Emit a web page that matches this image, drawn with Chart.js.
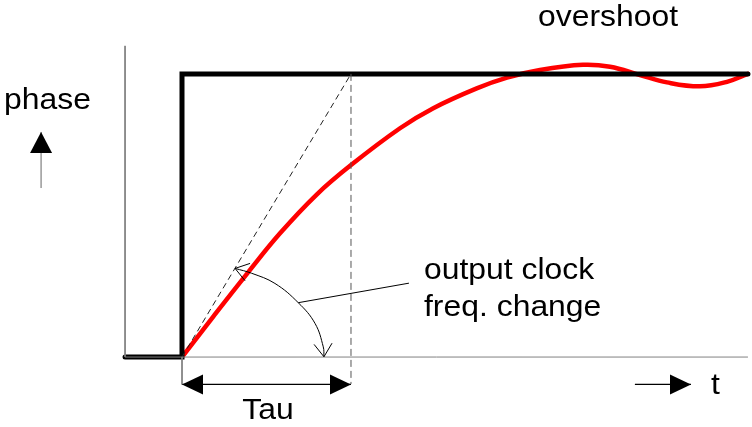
<!DOCTYPE html>
<html>
<head>
<meta charset="utf-8">
<script src="https://cdn.jsdelivr.net/npm/chart.js@4/dist/chart.umd.min.js"></script>
<style>
    html, body { margin: 0; padding: 0; background: #fff; }
    #wrap { width: 752px; height: 427px; position: relative; }
</style>
</head>
<body>
<div id="wrap"><canvas id="phase-chart"></canvas></div>
<script>
// time in units of Tau, phase normalised to the step height
const T_MIN = -1.077, T_MAX = 3.373;
const P_MIN = -0.247, P_MAX = 1.261;

// red response curve
const responseT     = [0, 0.185, 0.383, 0.580, 0.797, 1.000, 1.290, 1.487, 1.744, 1.923, 2.118, 2.373, 2.533, 2.710, 2.870, 3.065, 3.225, 3.349];
const responsePhase = [0, 0.143, 0.293, 0.437, 0.574, 0.678, 0.808, 0.879, 0.949, 0.987, 1.014, 1.032, 1.025, 0.996, 0.970, 0.956, 0.972, 1.000];

// black input step
const stepT     = [-0.337, 0, 0, 3.349];
const stepPhase = [0, 0, 1, 1];

// axes (thin grey)
const axisT     = [-0.337, -0.337, 3.349];
const axisPhase = [1.099, 0, 0];

// tau construction: tangent at origin and marker at t = Tau
const tangentT     = [0, 1];
const tangentPhase = [0, 1];
const tauMarkT     = [1, 1];
const tauMarkPhase = [1, -0.095];
const tauTickT     = [0, 0];
const tauTickPhase = [0, -0.097];
const tauArrowT     = [0, 1];
const tauArrowPhase = [-0.0965, -0.0965];

// "t" and "phase" direction arrows
const timeArrowT     = [2.680, 3.012];
const timeArrowPhase = [-0.0965, -0.0965];
const phaseArrowT     = [-0.834, -0.834];
const phaseArrowPhase = [0.597, 0.795];

// slope angle arc and its leader line
const arcT     = [0.314, 0.412, 0.550, 0.688, 0.787, 0.836, 0.840];
const arcPhase = [0.313, 0.296, 0.260, 0.192, 0.119, 0.036, 0.001];
const leaderT     = [0.688, 1.343];
const leaderPhase = [0.192, 0.261];

// labels: text, t, phase, align
const labels = [
    ["overshoot", 2.107, 1.170, "left"],
    ["phase", -1.053, 0.876, "left"],
    ["output clock", 1.432, 0.276, "left"],
    ["freq. change", 1.432, 0.145, "left"],
    ["t", 3.130, -0.131, "left"],
    ["Tau", 0.509, -0.219, "center"],
];

const pts = (xs, ys) => xs.map((x, i) => ({ x: x, y: ys[i] }));

const line = (xs, ys, color, width, extra) => Object.assign({
    data: pts(xs, ys),
    borderColor: color,
    borderWidth: width,
    pointRadius: 0,
    fill: false,
    tension: 0,
}, extra || {});

// arrowheads + text, placed through the chart scales
const marksPlugin = {
    id: "marks",
    afterDatasetsDraw(chart) {
        const ctx = chart.ctx;
        const xs = chart.scales.x, ys = chart.scales.y;
        const px = (t, p) => [xs.getPixelForValue(t), ys.getPixelForValue(p)];

        // tip at (t1,p1), coming from (t0,p0)
        const head = (t0, p0, t1, p1, len, half, filled) => {
            const [x0, y0] = px(t0, p0);
            const [x1, y1] = px(t1, p1);
            const a = Math.atan2(y1 - y0, x1 - x0);
            const bx = x1 - len * Math.cos(a), by = y1 - len * Math.sin(a);
            const nx = -Math.sin(a) * half, ny = Math.cos(a) * half;
            ctx.save();
            ctx.beginPath();
            ctx.moveTo(bx + nx, by + ny);
            ctx.lineTo(x1, y1);
            ctx.lineTo(bx - nx, by - ny);
            if (filled) {
                ctx.closePath();
                ctx.fillStyle = "#000";
                ctx.fill();
            } else {
                ctx.strokeStyle = "#000";
                ctx.lineWidth = 1;
                ctx.stroke();
            }
            ctx.restore();
        };

        head(tauArrowT[1], tauArrowPhase[1], tauArrowT[0], tauArrowPhase[0], 21, 10, true);
        head(tauArrowT[0], tauArrowPhase[0], tauArrowT[1], tauArrowPhase[1], 21, 10, true);
        head(timeArrowT[0], timeArrowPhase[0], timeArrowT[1], timeArrowPhase[1], 21, 10, true);
        head(phaseArrowT[0], phaseArrowPhase[0], phaseArrowT[1], phaseArrowPhase[1], 21, 11, true);
        head(arcT[1], arcPhase[1], arcT[0], arcPhase[0], 13, 9, false);
        head(arcT[5], arcPhase[5], arcT[6], arcPhase[6], 13, 9, false);

        ctx.save();
        ctx.fillStyle = "#000";
        ctx.textBaseline = "alphabetic";
        ctx.font = "29px 'Liberation Sans', Arial, sans-serif";
        labels.forEach(([txt, t, p, align]) => {
            const [x, y] = px(t, p);
            ctx.save();
            ctx.translate(x, y);
            ctx.scale(1.1, 1);
            ctx.textAlign = align;
            ctx.fillText(txt, 0, 0);
            ctx.restore();
        });
        ctx.restore();
    },
};

const chart = new Chart(document.getElementById("phase-chart").getContext("2d"), {
    type: "line",
    data: {
        datasets: [
            line(axisT, axisPhase, "#808080", 1),
            line(tauTickT, tauTickPhase, "#808080", 1),
            line(tauMarkT, tauMarkPhase, "#555", 1, { borderDash: [7, 4] }),
            line(tangentT, tangentPhase, "#222", 1, { borderDash: [6, 4] }),
            line(tauArrowT, tauArrowPhase, "#000", 1.2),
            line(timeArrowT, timeArrowPhase, "#000", 1.2),
            line(phaseArrowT, phaseArrowPhase, "#666", 1),
            line(arcT, arcPhase, "#000", 1, { tension: 0.4 }),
            line(leaderT, leaderPhase, "#000", 1),
            line(stepT, stepPhase, "#000", 5, { borderCapStyle: "round", borderJoinStyle: "miter" }),
            line(responseT, responsePhase, "#ff0000", 4.5, { tension: 0.4, borderCapStyle: "round" }),
        ],
    },
    options: {
        animation: false,
        responsive: true,
        maintainAspectRatio: false,
        layout: { padding: 0 },
        plugins: {
            legend: { display: false },
            tooltip: { enabled: false },
        },
        scales: {
            x: { type: "linear", min: T_MIN, max: T_MAX, display: false },
            y: { type: "linear", min: P_MIN, max: P_MAX, display: false },
        },
    },
    plugins: [marksPlugin],
});
</script>
</body>
</html>
